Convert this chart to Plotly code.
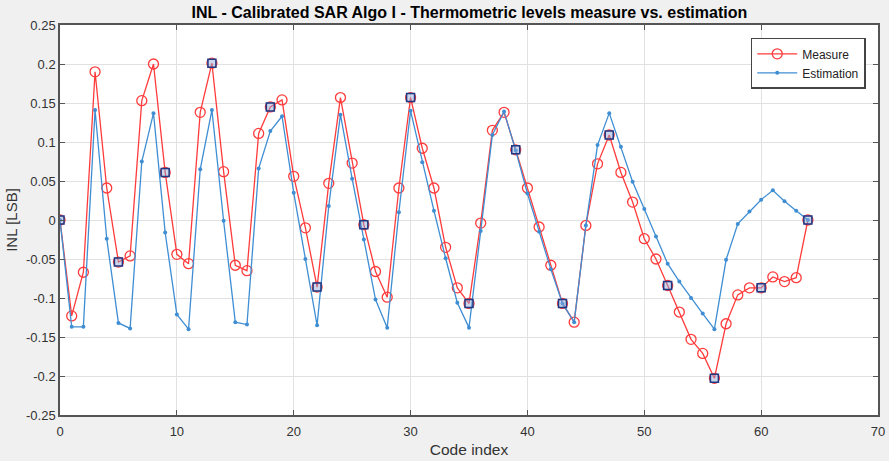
import plotly.graph_objects as go

code_index = list(range(65))

measure = [0.000, -0.123, -0.067, 0.190, 0.041, -0.054, -0.046, 0.153, 0.200, 0.061,
           -0.044, -0.056, 0.138, 0.201, 0.062, -0.058, -0.065, 0.111, 0.145, 0.154,
           0.056, -0.010, -0.086, 0.047, 0.157, 0.073, -0.006, -0.066, -0.099, 0.041,
           0.157, 0.092, 0.041, -0.035, -0.087, -0.107, -0.004, 0.115, 0.138, 0.090,
           0.041, -0.009, -0.058, -0.107, -0.131, -0.007, 0.072, 0.109, 0.061, 0.023,
           -0.024, -0.050, -0.084, -0.118, -0.153, -0.171, -0.203, -0.133, -0.096, -0.087,
           -0.087, -0.073, -0.079, -0.074, 0.000]

estimation = [0.000, -0.137, -0.137, 0.141, -0.024, -0.132, -0.139, 0.075, 0.137, -0.016,
              -0.121, -0.140, 0.065, 0.141, -0.001, -0.131, -0.134, 0.066, 0.114, 0.133,
              0.035, -0.050, -0.135, 0.018, 0.135, 0.053, -0.025, -0.102, -0.138, 0.010,
              0.140, 0.074, 0.012, -0.049, -0.106, -0.138, -0.014, 0.109, 0.139, 0.089,
              0.034, -0.015, -0.063, -0.107, -0.131, -0.007, 0.096, 0.137, 0.094, 0.049,
              0.014, -0.021, -0.056, -0.079, -0.100, -0.120, -0.140, -0.051, -0.005, 0.011,
              0.026, 0.038, 0.024, 0.012, 0.000]

square_index = [0, 5, 9, 13, 18, 22, 26, 30, 35, 39, 43, 47, 52, 56, 60, 64]
square_values = [measure[i] for i in square_index]

x_ticks = [0, 10, 20, 30, 40, 50, 60, 70]
y_ticks = [-0.25, -0.2, -0.15, -0.1, -0.05, 0, 0.05, 0.1, 0.15, 0.2, 0.25]
y_tick_text = ["-0.25", "-0.2", "-0.15", "-0.1", "-0.05", "0", "0.05", "0.1", "0.15", "0.2", "0.25"]

RED = "#ff3b3b"
BLUE = "#3f8ed3"
FONT = "Liberation Sans, Arial, sans-serif"

fig = go.Figure()
fig.add_trace(go.Scatter(
    x=code_index, y=measure, name="Measure", mode="lines+markers",
    line=dict(color=RED, width=1.3),
    marker=dict(symbol="circle-open", size=10, color=RED, line=dict(width=1.3)),
))
fig.add_trace(go.Scatter(
    x=code_index, y=estimation, name="Estimation", mode="lines+markers",
    line=dict(color=BLUE, width=1.3),
    marker=dict(symbol="circle", size=4, color=BLUE),
))
fig.add_trace(go.Scatter(
    x=square_index, y=square_values, mode="markers", showlegend=False,
    marker=dict(symbol="square", size=8, color="rgba(140,165,215,0.45)",
                line=dict(color="#1f3a85", width=1.5)),
))

axis_common = dict(
    showgrid=True, gridcolor="#e1e1e1", gridwidth=1,
    showline=True, linecolor="#555555", linewidth=1.5, mirror="ticks",
    ticks="inside", ticklen=5, tickcolor="#555555",
    zeroline=False, automargin=False,
    tickfont=dict(family=FONT, size=13, color="#333333"),
)

fig.update_layout(
    width=889, height=461,
    paper_bgcolor="#f0f0f0", plot_bgcolor="white",
    margin=dict(l=60, r=11, t=25, b=46),
    title=dict(text="<b>INL - Calibrated SAR Algo I - Thermometric levels measure vs. estimation</b>",
               x=0.528, xanchor="center", y=0.986, yanchor="top",
               font=dict(family=FONT, size=16, color="#000")),
    xaxis=dict(range=[0, 70], tickvals=x_ticks, ticklabelstandoff=4, **axis_common,
               title=dict(text="Code index", standoff=6,
                          font=dict(family=FONT, size=15.5, color="#333333"))),
    yaxis=dict(range=[-0.25, 0.25], tickvals=y_ticks, ticktext=y_tick_text, **axis_common,
               title=dict(text="INL [LSB]", standoff=5,
                          font=dict(family=FONT, size=15, color="#333333"))),
    legend=dict(x=0.985, y=0.967, xanchor="right", yanchor="top",
                bgcolor="white", bordercolor="#444444", borderwidth=1.5,
                font=dict(family=FONT, size=12, color="#222222"),
                tracegroupgap=0, itemwidth=40),
    showlegend=True,
)

fig.write_html("out.html", config={"displayModeBar": False},
               post_script="document.body.style.margin='0';document.body.style.background='#f0f0f0';")
